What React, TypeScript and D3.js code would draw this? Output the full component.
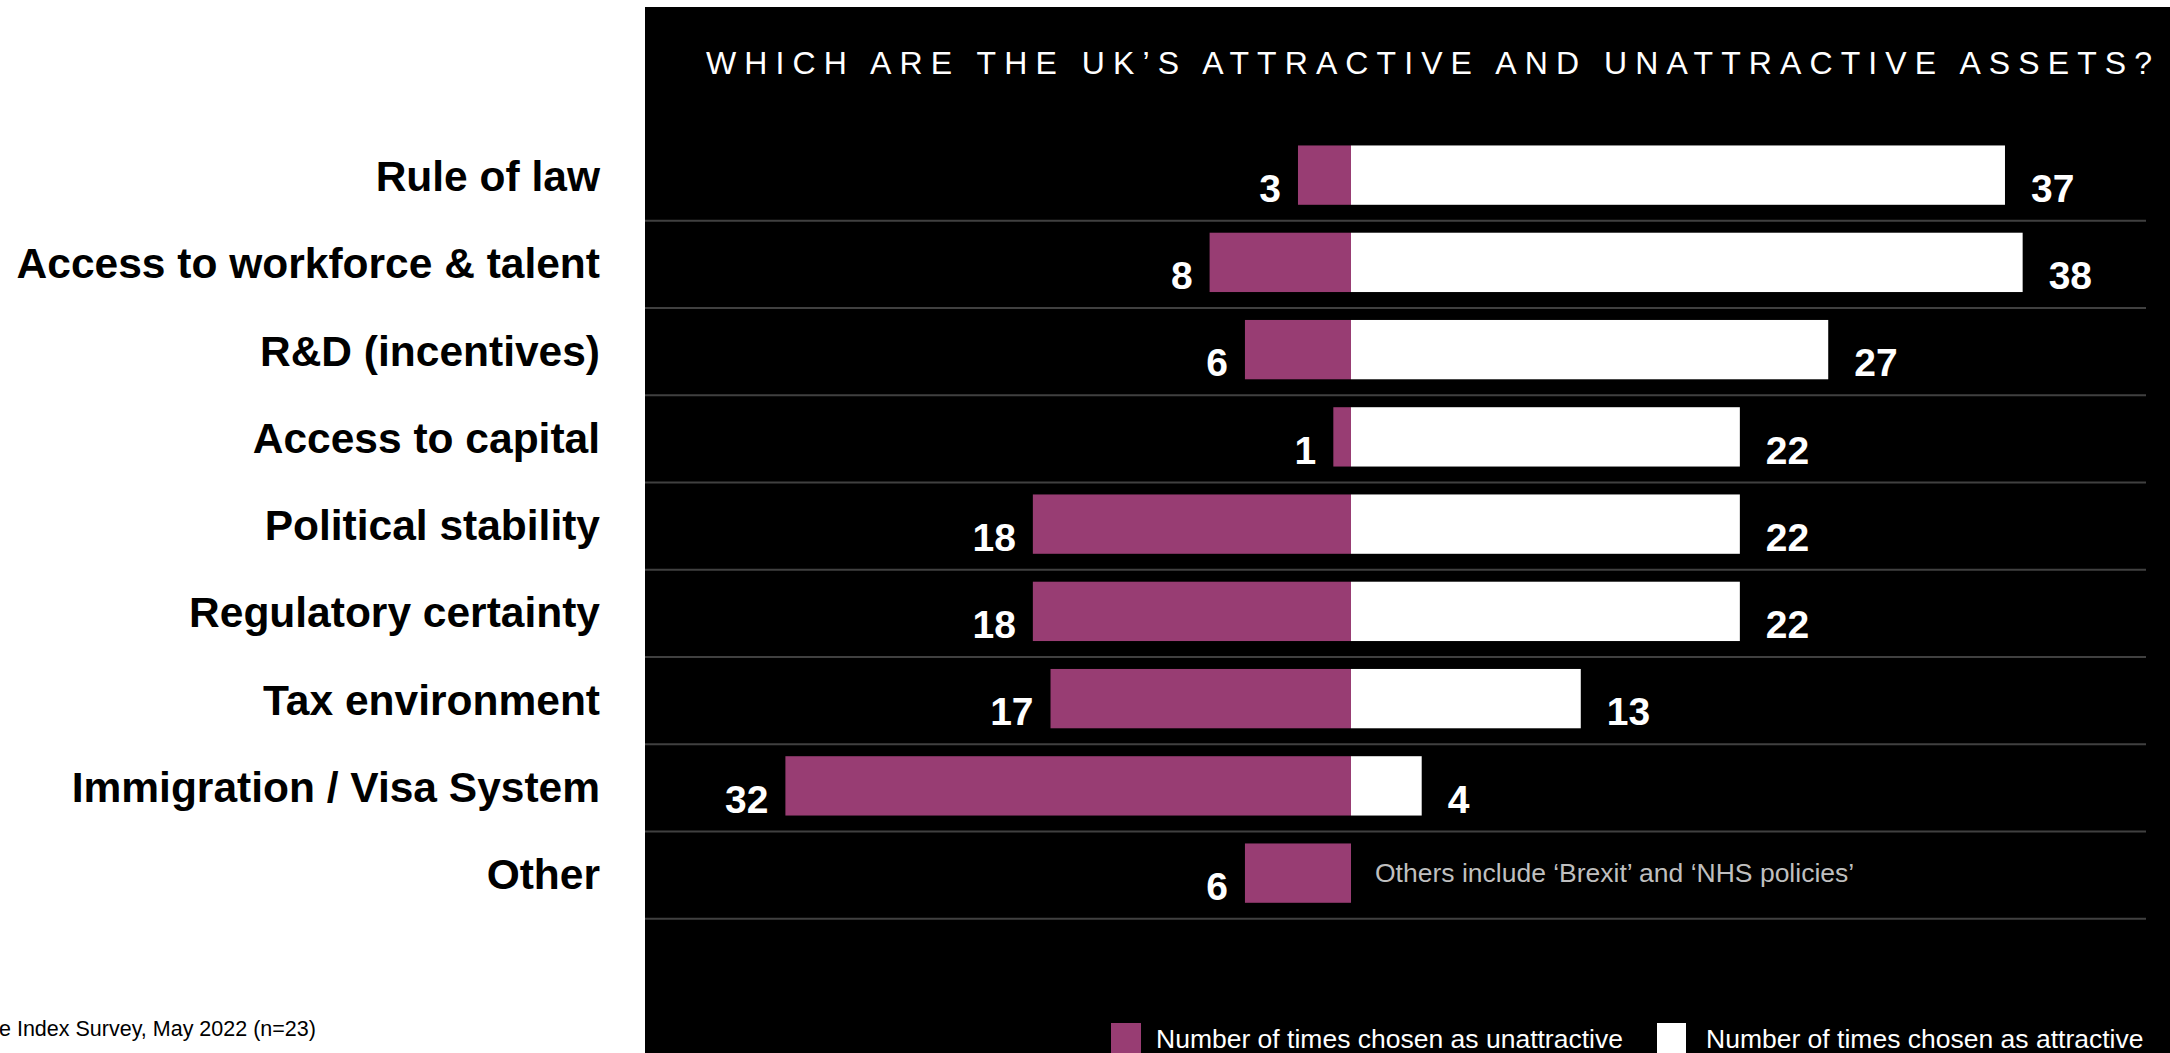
import React from "react";
import * as d3 from "d3";

const categories = [
  "Rule of law",
  "Access to workforce & talent",
  "R&D (incentives)",
  "Access to capital",
  "Political stability",
  "Regulatory certainty",
  "Tax environment",
  "Immigration / Visa System",
  "Other",
];
const unattractive = [3, 8, 6, 1, 18, 18, 17, 32, 6];
const attractive: (number | null)[] = [37, 38, 27, 22, 22, 22, 13, 4, null];

const title = "WHICH ARE THE UK\u2019S ATTRACTIVE AND UNATTRACTIVE ASSETS?";
const otherNote = "Others include \u2018Brexit\u2019 and \u2018NHS policies\u2019";
const legendLabels = ["Number of times chosen as unattractive", "Number of times chosen as attractive"];
const sourceText = "e Index Survey, May 2022 (n=23)";

const W = 2170;
const H = 1053;
const PURPLE = "#983d73";
const FONT = "'Liberation Sans', Arial, sans-serif";

export default function App() {
  const x = d3.scaleLinear().domain([-40, 40]).range([644, 2058]);
  const y = d3
    .scaleBand<string>()
    .domain(categories)
    .range([131.5, 916.75])
    .paddingInner(0.32)
    .paddingOuter(0.16);
  const step = y.step();
  const bw = y.bandwidth();
  const x0 = x(0);

  return (
    <svg
      width={W}
      height={H}
      style={{ position: "absolute", left: 0, top: 0, display: "block", background: "#fff" }}
      fontFamily={FONT}
    >
      <rect x={645} y={7} width={W - 645} height={H - 7} fill="#000" />
      <text
        x={706}
        y={74}
        fill="#fff"
        fontSize={32}
        textLength={1446}
        lengthAdjust="spacing"
      >
        {title}
      </text>

      {categories.map((c, i) => {
        const top = y(c)!;
        const rowTop = top - 0.16 * step;
        const lineY = rowTop + step + 2;
        const u = unattractive[i];
        const a = attractive[i];
        const labelY = top + bw - 3;
        return (
          <g key={c}>
            <line x1={645} x2={2146} y1={lineY} y2={lineY} stroke="#404040" strokeWidth={2} />
            <text
              x={600}
              y={top + bw / 2 + 1}
              dy="0.35em"
              textAnchor="end"
              fontWeight="bold"
              fontSize={42.5}
              fill="#000"
            >
              {c}
            </text>
            <rect x={x(-u)} y={top} width={x0 - x(-u)} height={bw} fill={PURPLE} />
            <text
              x={x(-u) - 17}
              y={labelY}
              textAnchor="end"
              fontWeight="bold"
              fontSize={39}
              fill="#fff"
            >
              {u}
            </text>
            {a !== null ? (
              <>
                <rect x={x0} y={top} width={x(a) - x0} height={bw} fill="#fff" />
                <text x={x(a) + 26} y={labelY} fontWeight="bold" fontSize={39} fill="#fff">
                  {a}
                </text>
              </>
            ) : (
              <text x={1375} y={top + bw / 2} dy="0.35em" fontSize={26.5} fill="#bfbfbf">
                {otherNote}
              </text>
            )}
          </g>
        );
      })}

      <rect x={1111} y={1023} width={30} height={30} fill={PURPLE} />
      <text x={1156} y={1048} fontSize={26.5} fill="#fff">
        {legendLabels[0]}
      </text>
      <rect x={1657} y={1023} width={29} height={30} fill="#fff" />
      <text x={1706} y={1048} fontSize={26.5} fill="#fff">
        {legendLabels[1]}
      </text>

      <text x={-1} y={1036} fontSize={21.5} fill="#000">
        {sourceText}
      </text>
    </svg>
  );
}
